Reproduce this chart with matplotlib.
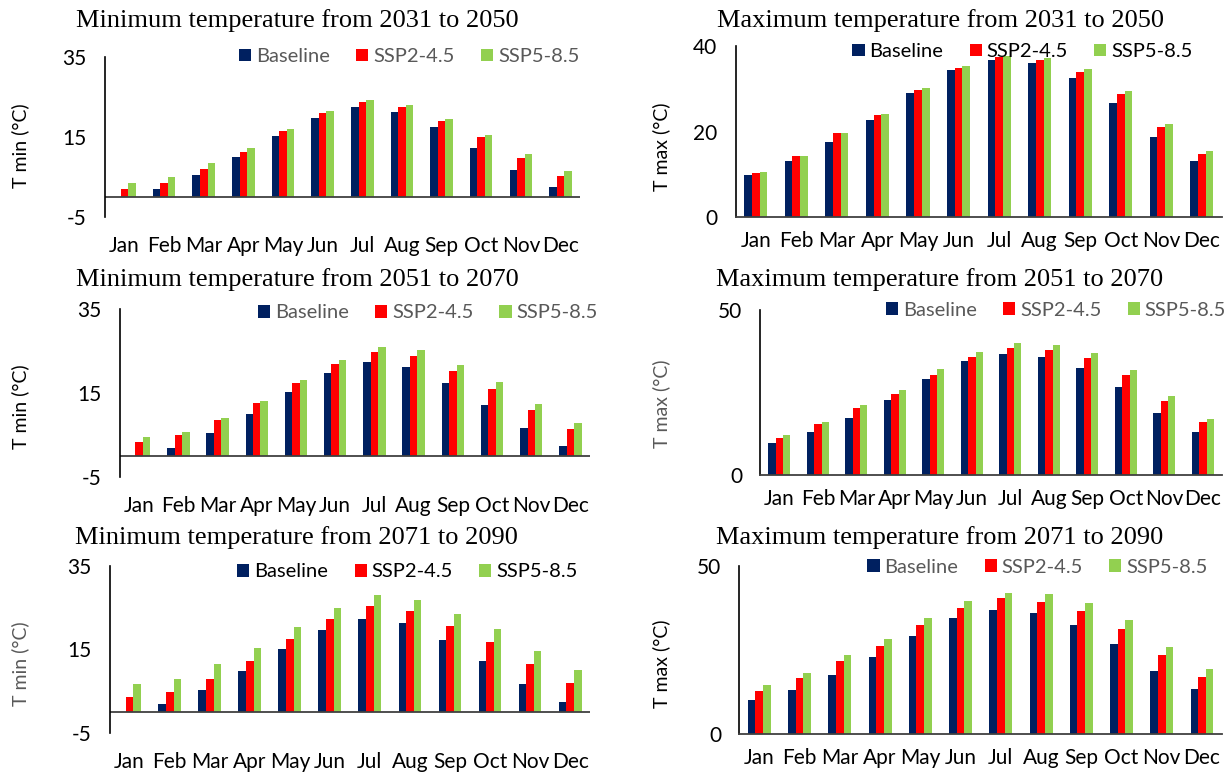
import matplotlib.pyplot as plt
import numpy as np

MONTHS = ["Jan", "Feb", "Mar", "Apr", "May", "Jun",
          "Jul", "Aug", "Sep", "Oct", "Nov", "Dec"]
SERIES = ["Baseline", "SSP2-4.5", "SSP5-8.5"]
COLORS = ["#002060", "#FF0000", "#92D050"]

# minimum temperature (deg C)
tmin_base = [0.0, 1.9, 5.4, 9.9, 15.1, 19.6, 22.3, 21.2, 17.3, 12.2, 6.6, 2.4]
tmin_ssp245_2031 = [1.9, 3.4, 6.9, 11.1, 16.3, 20.8, 23.6, 22.4, 18.8, 14.8, 9.7, 5.2]
tmin_ssp585_2031 = [3.4, 5.0, 8.4, 12.2, 16.9, 21.4, 24.2, 23.0, 19.5, 15.5, 10.7, 6.4]
tmin_ssp245_2051 = [3.3, 5.0, 8.6, 12.6, 17.3, 21.8, 24.6, 23.7, 20.2, 16.0, 10.8, 6.3]
tmin_ssp585_2051 = [4.5, 5.6, 9.0, 13.0, 18.0, 22.8, 25.8, 25.1, 21.7, 17.6, 12.3, 7.8]
tmin_ssp245_2071 = [3.6, 4.8, 8.0, 12.2, 17.5, 22.3, 25.3, 24.3, 20.7, 16.8, 11.6, 6.9]
tmin_ssp585_2071 = [6.7, 8.0, 11.6, 15.4, 20.4, 25.0, 27.9, 26.8, 23.5, 19.8, 14.7, 10.1]

# maximum temperature (deg C)
tmax_base = [9.9, 13.0, 17.5, 22.7, 29.1, 34.5, 36.7, 36.0, 32.5, 26.7, 18.8, 13.2]
tmax_ssp245_2031 = [10.2, 14.3, 19.6, 23.8, 29.8, 35.0, 37.5, 36.7, 34.1, 28.9, 21.1, 14.8]
tmax_ssp585_2031 = [10.4, 14.3, 19.6, 24.2, 30.3, 35.4, 37.8, 37.2, 34.6, 29.6, 21.8, 15.4]
tmax_ssp245_2051 = [11.4, 15.6, 20.5, 24.5, 30.4, 35.8, 38.5, 38.0, 35.6, 30.3, 22.4, 16.0]
tmax_ssp585_2051 = [12.1, 16.0, 21.3, 26.0, 32.2, 37.5, 40.0, 39.5, 37.1, 31.9, 24.1, 17.2]
tmax_ssp245_2071 = [12.6, 16.5, 21.6, 26.1, 32.3, 37.4, 40.3, 39.1, 36.4, 31.2, 23.3, 16.8]
tmax_ssp585_2071 = [14.6, 18.2, 23.3, 28.2, 34.4, 39.5, 41.8, 41.5, 39.0, 33.8, 25.9, 19.3]

plt.rcParams["font.family"] = ["Lato", "DejaVu Sans"]
plt.rcParams["axes.unicode_minus"] = False

GRAY = "#595959"

panels = [
    dict(rect=[0.085, 0.720, 0.386, 0.207], kind="min", title="Minimum temperature from 2031 to 2050",
         txy=(0.241, 0.974), ylab_xy=(0.016, 0.812), ylab_c="black", leg=(0.64, 1.0), leg_c=GRAY,
         data=[tmin_base, tmin_ssp245_2031, tmin_ssp585_2031]),
    dict(rect=[0.597, 0.720, 0.395, 0.220], kind="max40", title="Maximum temperature from 2031 to 2050",
         txy=(0.763, 0.974), ylab_xy=(0.537, 0.810), ylab_c="black", leg=(0.59, 0.97), leg_c="black",
         data=[tmax_base, tmax_ssp245_2031, tmax_ssp585_2031]),
    dict(rect=[0.097, 0.384, 0.382, 0.217], kind="min", title="Minimum temperature from 2051 to 2070",
         txy=(0.241, 0.639), ylab_xy=(0.016, 0.475), ylab_c="black", leg=(0.655, 0.976), leg_c=GRAY,
         data=[tmin_base, tmin_ssp245_2051, tmin_ssp585_2051]),
    dict(rect=[0.617, 0.386, 0.375, 0.213], kind="max50", title="Maximum temperature from 2051 to 2070",
         txy=(0.763, 0.639), ylab_xy=(0.537, 0.478), ylab_c=GRAY, leg=(0.64, 1.0), leg_c=GRAY,
         data=[tmax_base, tmax_ssp245_2051, tmax_ssp585_2051]),
    dict(rect=[0.089, 0.053, 0.390, 0.216], kind="min", title="Minimum temperature from 2071 to 2090",
         txy=(0.241, 0.306), ylab_xy=(0.016, 0.142), ylab_c=GRAY, leg=(0.62, 0.964), leg_c="black",
         data=[tmin_base, tmin_ssp245_2071, tmin_ssp585_2071]),
    dict(rect=[0.600, 0.052, 0.392, 0.217], kind="max50", title="Maximum temperature from 2071 to 2090",
         txy=(0.763, 0.306), ylab_xy=(0.537, 0.142), ylab_c="black", leg=(0.618, 0.99), leg_c=GRAY,
         data=[tmax_base, tmax_ssp245_2071, tmax_ssp585_2071]),
]

fig = plt.figure(figsize=(12.32, 7.74), dpi=100)
x = np.arange(len(MONTHS))
bw = 0.19

for p in panels:
    ax = fig.add_axes(p["rect"])
    for i, (vals, name, col) in enumerate(zip(p["data"], SERIES, COLORS)):
        ax.bar(x + (i - 1) * bw, vals, width=bw, color=col, label=name)
    ax.set_xlim(-0.5, 11.5)
    ax.set_xticks(x)
    ax.set_xticklabels(MONTHS)
    ax.spines["top"].set_visible(False)
    ax.spines["right"].set_visible(False)
    if p["kind"] == "min":
        ax.set_ylim(-5, 35)
        ax.set_yticks([-5, 15, 35])
        ax.spines["bottom"].set_visible(False)
        ax.axhline(0, color="#404040", lw=1.3)
        ax.tick_params(axis="x", pad=14)
    else:
        top = 40 if p["kind"] == "max40" else 50
        ax.set_ylim(0, top)
        ax.set_yticks([0, 20, 40] if top == 40 else [0, 50])
        ax.spines["bottom"].set_color("#404040")
        ax.spines["bottom"].set_linewidth(1.3)
        ax.tick_params(axis="x", pad=10)
    ax.spines["left"].set_linewidth(1.2)
    ax.tick_params(axis="both", length=0, labelsize=15)
    ax.tick_params(axis="y", pad=13)
    leg = ax.legend(loc="center", bbox_to_anchor=p["leg"], ncol=3, frameon=False,
                    fontsize=14.5, handlelength=0.6, handleheight=0.6, handletextpad=0.25,
                    columnspacing=1.3, borderaxespad=0)
    for t in leg.get_texts():
        t.set_color(p["leg_c"])
    fig.text(p["txy"][0], p["txy"][1], p["title"], ha="center", va="center",
             family="Liberation Serif", fontsize=19)
    fig.text(p["ylab_xy"][0], p["ylab_xy"][1], "T min (°C)" if p["kind"] == "min" else "T max (°C)",
             rotation=90, ha="center", va="center", fontsize=14, color=p["ylab_c"])

fig.savefig("out.png", dpi=100)
